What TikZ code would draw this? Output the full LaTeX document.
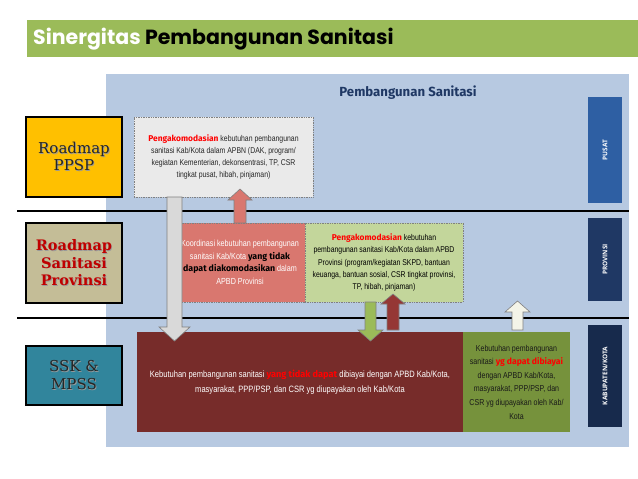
\documentclass[tikz,border=0pt]{standalone}
\usepackage{fontspec}
\setmainfont{Liberation Sans}
\newfontfamily\narrow{Liberation Sans}[FakeStretch=0.82]
\newfontfamily\disp{Fira Sans}
\newfontfamily\titlefont{Poppins}
\newfontfamily\serifb{DejaVu Serif}
\newfontfamily\barfont{Open Sans}
\definecolor{band}{HTML}{9BBB59}
\definecolor{panel}{HTML}{B7C9E1}
\definecolor{gold}{HTML}{FFC000}
\definecolor{tan}{HTML}{C4BD97}
\definecolor{teal}{HTML}{31859C}
\definecolor{greybox}{HTML}{EAEAEA}
\definecolor{salmon}{HTML}{D9776F}
\definecolor{lgreen}{HTML}{C3D69B}
\definecolor{brown}{HTML}{772C2A}
\definecolor{olive}{HTML}{76923C}
\definecolor{pusat}{HTML}{2E5FA3}
\definecolor{prov}{HTML}{1F3864}
\definecolor{kab}{HTML}{172A4C}
\definecolor{hdr}{HTML}{1F3864}
\definecolor{hired}{HTML}{FF0000}
\definecolor{darkred}{HTML}{953735}
\definecolor{ivory}{HTML}{F4F4E8}
\definecolor{edge}{HTML}{808080}
\definecolor{provred}{HTML}{C00000}
\definecolor{darktext}{HTML}{262626}
\newcommand\hl[1]{{\disp\bfseries\color{hired}#1}}
\newcommand\bk[1]{{\disp\bfseries\color{black}#1}}
\newcommand\shd[1]{\leavevmode\rlap{\hspace{0.8pt}\raisebox{-0.8pt}{\textcolor{black!40}{#1}}}#1}
\tikzset{
  leftbox/.style={draw=black, line width=2pt, inner sep=0pt, outer sep=0pt, align=center,
    font=\serifb\fontsize{15}{17.5}\selectfont},
  txtbox/.style={inner sep=0pt, outer sep=0pt, align=center, draw=edge, line width=0.5pt,
    dash pattern=on 1pt off 0.7pt},
  barbox/.style={inner sep=0pt, outer sep=0pt},
  bartext/.style={rotate=90, text=white, font=\barfont\bfseries\fontsize{6.5}{8}\selectfont},
  blockarrow/.style={draw=edge, line width=0.6pt},
  sep/.style={line width=1.8pt, black}
}
\begin{document}
\begin{tikzpicture}[x=1pt,y=-1pt]
\useasboundingbox (0,0) rectangle (638,479);
\fill[white] (0,0) rectangle (638,479);
% title band
\fill[band] (27,20) rectangle (638,57);
\node[anchor=west, inner sep=0pt] (title) at (33,39.5)
  {\titlefont\bfseries\fontsize{20.5}{24}\selectfont{\color{white}Sinergitas} Pembangunan Sanitasi};
% panel
\fill[panel] (106,74) rectangle (629,447);
\node (hdr) at (408,93) {\disp\bfseries\fontsize{13.2}{15}\selectfont\color{hdr}Pembangunan Sanitasi};
% separator lines
\coordinate (l1a) at (17,211); \coordinate (l1b) at (629,211);
\coordinate (l2a) at (17,318); \coordinate (l2b) at (629,318);
\draw[sep] (l1a) -- (l1b);
\draw[sep] (l2a) -- (l2b);
% left boxes
\node[leftbox, fill=gold, minimum width=96pt, minimum height=80pt, text=darktext] (ppsp) at (74,157)
  {\shd{Roadmap}\\\shd{PPSP}};
\node[leftbox, fill=tan, minimum width=96pt, minimum height=80pt, text=provred,
  font=\serifb\bfseries\fontsize{14.5}{17.5}\selectfont] (prv) at (74,263)
  {\shd{Roadmap}\\\shd{Sanitasi}\\\shd{Provinsi}};
\node[leftbox, fill=teal, minimum width=96pt, minimum height=59pt, text=darktext] (ssk) at (74,375.5)
  {\shd{SSK \&}\\\shd{MPSS}};
% right bars
\node[barbox, fill=pusat, minimum width=34pt, minimum height=106pt] (bpusat) at (605,150) {};
\node[bartext] at (bpusat) {PUSAT};
\node[barbox, fill=prov, minimum width=34pt, minimum height=83pt] (bprov) at (605,259.5) {};
\node[bartext] at (bprov) {PROVINSI};
\node[barbox, fill=kab, minimum width=34pt, minimum height=102pt] (bkab) at (605,376) {};
\node[bartext] at (bkab) {KABUPATEN/KOTA};
% content boxes
\node[txtbox, fill=greybox, minimum width=179pt, minimum height=80pt,
  font=\narrow\fontsize{8.4}{11.7}\selectfont, text=black!85] (gbox) at (223.5,157)
  {\hl{Pengakomodasian} kebutuhan pembangunan\\
   sanitasi Kab/Kota dalam APBN (DAK, program/\\
   kegiatan Kementerian, dekonsentrasi, TP, CSR\\
   tingkat pusat, hibah, pinjaman)};
\node[txtbox, fill=salmon, minimum width=130pt, minimum height=79pt,
  font=\narrow\fontsize{8.8}{12.7}\selectfont, text=white] (sbox) at (240,262.5)
  {Koordinasi kebutuhan pembangunan\\
   sanitasi Kab/Kota \bk{yang tidak}\\
   \bk{dapat diakomodasikan} dalam\\
   APBD Provinsi};
\node[txtbox, fill=lgreen, minimum width=158pt, minimum height=79pt,
  font=\narrow\fontsize{8.4}{12.3}\selectfont, text=black] (lbox) at (384,262.5)
  {\hl{Pengakomodasian} kebutuhan\\
   pembangunan sanitasi Kab/Kota dalam APBD\\
   Provinsi (program/kegiatan SKPD, bantuan\\
   keuanga, bantuan sosial, CSR tingkat provinsi,\\
   TP, hibah, pinjaman)};
\node[inner sep=0pt, outer sep=0pt, fill=brown, minimum width=326pt, minimum height=100pt,
  align=center, font=\narrow\fontsize{9.2}{15.5}\selectfont, text=white] (bbox) at (300,382)
  {Kebutuhan pembangunan sanitasi \hl{yang tidak dapat} dibiayai dengan APBD Kab/Kota,\\
   masyarakat, PPP/PSP, dan CSR yg diupayakan oleh Kab/Kota};
\node[inner sep=0pt, outer sep=0pt, fill=olive, minimum width=107pt, minimum height=100pt,
  align=center, font=\narrow\fontsize{8.6}{13.6}\selectfont, text=black!90] (obox) at (516.5,382)
  {Kebutuhan pembangunan\\
   sanitasi \hl{yg dapat dibiayai}\\
   dengan APBD Kab/Kota,\\
   masyarakat, PPP/PSP, dan\\
   CSR yg diupayakan oleh Kab/\\
   Kota};
% block arrows
\draw[blockarrow, fill=black!15] (167,197) -- (167,327) -- (159,327) -- (174.5,341)
  -- (190,327) -- (182,327) -- (182,197) -- cycle;
\draw[blockarrow, fill=salmon] (234,223) -- (234,200) -- (228,200) -- (240,189)
  -- (252,200) -- (246,200) -- (246,223) -- cycle;
\draw[blockarrow, fill=band] (365,302) -- (365,330) -- (358,330) -- (370.5,341)
  -- (383,330) -- (376,330) -- (376,302) -- cycle;
\draw[blockarrow, fill=darkred] (387,330) -- (387,304) -- (381,304) -- (393,294)
  -- (405,304) -- (399,304) -- (399,330) -- cycle;
\draw[blockarrow, fill=ivory] (512,330) -- (512,312) -- (505,312) -- (517.5,301)
  -- (530,312) -- (523,312) -- (523,330) -- cycle;
\end{tikzpicture}
\end{document}
